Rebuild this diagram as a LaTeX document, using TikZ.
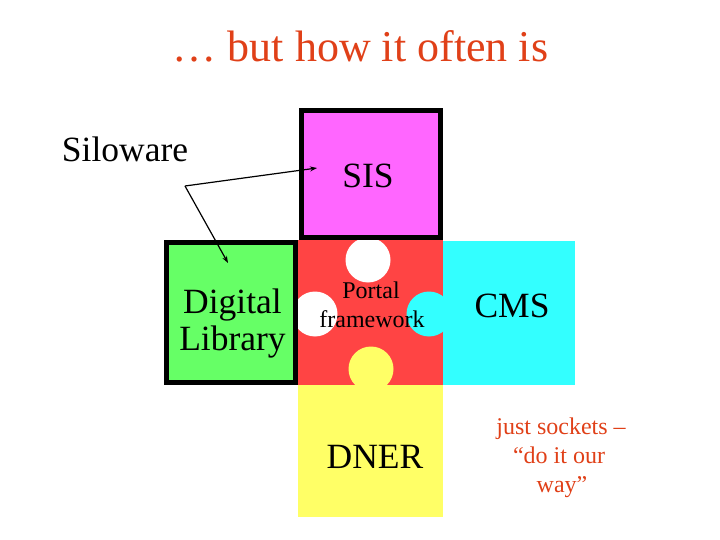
\documentclass[tikz,border=0pt]{standalone}
\usepackage{fontspec}
\setmainfont{Liberation Serif}
\usetikzlibrary{arrows.meta}
\definecolor{tred}{RGB}{224,64,24}
\definecolor{pred}{RGB}{255,68,68}
\definecolor{pmag}{RGB}{255,102,255}
\definecolor{pgreen}{RGB}{102,255,102}
\definecolor{pcyan}{RGB}{51,255,255}
\definecolor{pyellow}{RGB}{255,255,102}
\tikzset{
  big/.style={anchor=base, font=\fontsize{35.5}{41}\selectfont, inner sep=0pt},
  small/.style={anchor=base, font=\fontsize{24}{28}\selectfont, inner sep=0pt},
  note/.style={anchor=base, font=\fontsize{24}{28}\selectfont, inner sep=0pt, text=tred},
  framed/.style={draw=black, line width=5pt},
  pointer/.style={line width=1.2pt, -{Stealth[length=7pt,width=5pt]}}
}
\begin{document}
\begin{tikzpicture}[x=1pt,y=-1pt]
\useasboundingbox (0,0) rectangle (720,540);
% portal framework (red) with sockets
\fill[pred] (298,240) rectangle (443,387);
\fill[white] (368,260) circle (22.5);
\fill[white] (315,314) circle (22.5);
% CMS (cyan) with plug
\fill[pcyan] (443,241) rectangle (575,385);
\fill[pcyan] (429,314) circle (22.5);
% DNER (yellow) with plug
\fill[pyellow] (298,385) rectangle (443,517);
\fill[pyellow] (371,369) circle (22.5);
% Digital Library (green)
\filldraw[fill=pgreen, framed] (166.5,242.5) rectangle (295.5,382.5);
% SIS (magenta)
\filldraw[fill=pmag, framed] (301.5,110.5) rectangle (440.5,237.5);
% texts
\node[big, text=tred, font=\fontsize{44}{50}\selectfont] (title) at (360.5,62) {… but how it often is};
\node[big] (silo) at (125,162) {Siloware};
\node[big] (sis) at (368,188) {SIS};
\node[big] (dig) at (232.5,313) {Digital};
\node[big] (lib) at (232.5,350) {Library};
\node[small] (portal) at (371,298) {Portal};
\node[small] (frame) at (372,327) {framework};
\node[big] (cms) at (512,317) {CMS};
\node[big] (dner) at (375,468) {DNER};
\node[note] (n1) at (561,434) {just sockets –};
\node[note] (n2) at (559,463) {“do it our};
\node[note] (n3) at (562,492) {way”};
% arrows
\coordinate (src) at (185,186);
\coordinate (sisin) at (317,168);
\coordinate (digin) at (228,263);
\draw[pointer] (src) -- (sisin);
\draw[pointer] (src) -- (digin);
\end{tikzpicture}
\end{document}
